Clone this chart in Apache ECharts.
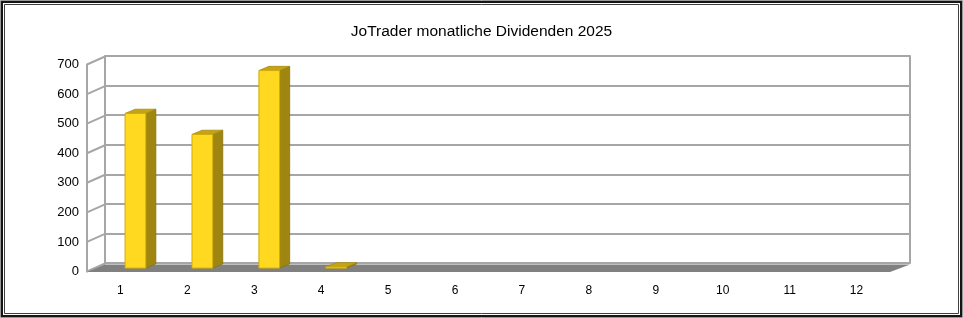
<!DOCTYPE html>
<html>
<head>
<meta charset="utf-8">
<script src="https://cdn.jsdelivr.net/npm/echarts@6/dist/echarts.min.js"></script>
<style>
html,body{margin:0;padding:0;background:#fff;}
#chart{width:963px;height:318px;}
</style>
</head>
<body>
<div id="chart"></div>
<script>
// ---- data ----
const titleText = 'JoTrader monatliche Dividenden 2025';
const months = ['1','2','3','4','5','6','7','8','9','10','11','12'];
const dividends = [523, 452, 668, 4, 0, 0, 0, 0, 0, 0, 0, 0];
const yTicks = [0, 100, 200, 300, 400, 500, 600, 700];
const yMin = 0, yMax = 700, yStep = 100;

// ---- layout / style ----
const W = 963, H = 318;
const DEPTH_X = 18, DEPTH_Y = 8;
const gridColor = '#a6a6a6';
const font = 'Liberation Sans, Arial, sans-serif';

const chart = echarts.init(document.getElementById('chart'), null, {renderer: 'canvas'});

const option = {
  backgroundColor: '#ffffff',
  animation: false,
  textStyle: {fontFamily: font},
  title: {
    text: titleText,
    left: 'center',
    top: 19,
    textStyle: {fontFamily: font, fontSize: 15.5, fontWeight: 'normal', color: '#000'}
  },
  grid: [
    {left: 87 + DEPTH_X, top: 56, width: 805, height: 207},
    {left: 87, top: 64.5, width: 803, height: 207}
  ],
  xAxis: [
    {type: 'category', gridIndex: 0, data: months, show: false},
    {type: 'category', gridIndex: 1, data: months,
      axisLine: {show: false}, axisTick: {show: false},
      axisLabel: {color: '#000', fontSize: 12, margin: 13, fontFamily: font}}
  ],
  yAxis: [
    {type: 'value', gridIndex: 0, min: yMin, max: yMax, interval: yStep,
      axisLabel: {show: false}, axisTick: {show: false},
      axisLine: {show: true, lineStyle: {color: gridColor, width: 2}},
      splitLine: {show: true, lineStyle: {color: gridColor, width: 2}}},
    {type: 'value', gridIndex: 1, min: yMin, max: yMax, interval: yStep,
      axisLabel: {color: '#000', fontSize: 13, margin: 8, fontFamily: font},
      axisTick: {show: false},
      axisLine: {show: true, lineStyle: {color: gridColor, width: 2}},
      splitLine: {show: false}},
    {type: 'value', gridIndex: 0, position: 'right', min: yMin, max: yMax, interval: yStep,
      axisLabel: {show: false}, axisTick: {show: false},
      axisLine: {show: true, lineStyle: {color: gridColor, width: 2}},
      splitLine: {show: false}}
  ],
  graphic: [
    {type: 'rect', silent: true, z: 100, shape: {x: 0.5, y: 0.5, width: W - 1, height: H - 1},
      style: {fill: null, stroke: '#9a9a9a', lineWidth: 1}},
    {type: 'rect', silent: true, z: 100, shape: {x: 2, y: 2, width: W - 4, height: H - 4},
      style: {fill: null, stroke: '#151515', lineWidth: 2}},
    {type: 'rect', silent: true, z: 100, shape: {x: 4.5, y: 4.5, width: W - 9, height: H - 9},
      style: {fill: null, stroke: '#404040', lineWidth: 1}}
  ],
  series: [
    // side wall gridlines (diagonals)
    {
      type: 'custom', xAxisIndex: 1, yAxisIndex: 1, z: 1,
      data: yTicks.map(v => [0, v]),
      renderItem: function (params, api) {
        const cs = params.coordSys;
        const p = api.coord([0, api.value(1)]);
        return {
          type: 'line',
          shape: {x1: cs.x, y1: p[1], x2: cs.x + DEPTH_X, y2: p[1] - DEPTH_Y},
          style: {stroke: gridColor, lineWidth: 2}
        };
      }
    },
    // floor
    {
      type: 'custom', xAxisIndex: 1, yAxisIndex: 1, z: 2,
      data: [[0, 0]],
      renderItem: function (params, api) {
        const cs = params.coordSys;
        const y0 = api.coord([0, 0])[1];
        return {
          type: 'polygon',
          shape: {points: [
            [cs.x, y0 + 0.5],
            [cs.x + DEPTH_X, y0 - DEPTH_Y + 1],
            [cs.x + cs.width + DEPTH_X + 2, y0 - DEPTH_Y + 1],
            [cs.x + cs.width, y0 + 0.5]
          ]},
          style: {fill: '#808080'}
        };
      }
    },
    // 3D bars
    {
      type: 'custom', xAxisIndex: 1, yAxisIndex: 1, z: 3,
      data: dividends.map((v, i) => [i, v]),
      renderItem: function (params, api) {
        const val = api.value(1);
        if (!(val > 0)) return null;
        const c0 = api.coord([api.value(0), 0]);
        const c1 = api.coord([api.value(0), val]);
        const band = api.size([1, 0])[0];
        const w = band * 0.31, shift = band * 0.224;
        const dx = band * 0.15, dy = dx * 0.42;
        const lift = 3.4;
        const x0 = c0[0] + shift - w / 2, x1 = x0 + w;
        const yb = c0[1] - lift, yt = c1[1] - lift;
        return {
          type: 'group',
          children: [
            {type: 'polygon', shape: {points: [[x1, yt], [x1 + dx, yt - dy], [x1 + dx, yb - dy], [x1, yb]]},
              style: {fill: '#9f8611', stroke: '#8a730c', lineWidth: 0.8}},
            {type: 'polygon', shape: {points: [[x0, yt], [x0 + dx, yt - dy], [x1 + dx, yt - dy], [x1, yt]]},
              style: {fill: '#c3a414', stroke: '#a88d10', lineWidth: 0.8}},
            {type: 'rect', shape: {x: x0, y: yt, width: w, height: Math.max(yb - yt, 1)},
              style: {fill: '#ffd920', stroke: '#d1ab0a', lineWidth: 1}}
          ]
        };
      }
    }
  ]
};
chart.setOption(option);
</script>
</body>
</html>
